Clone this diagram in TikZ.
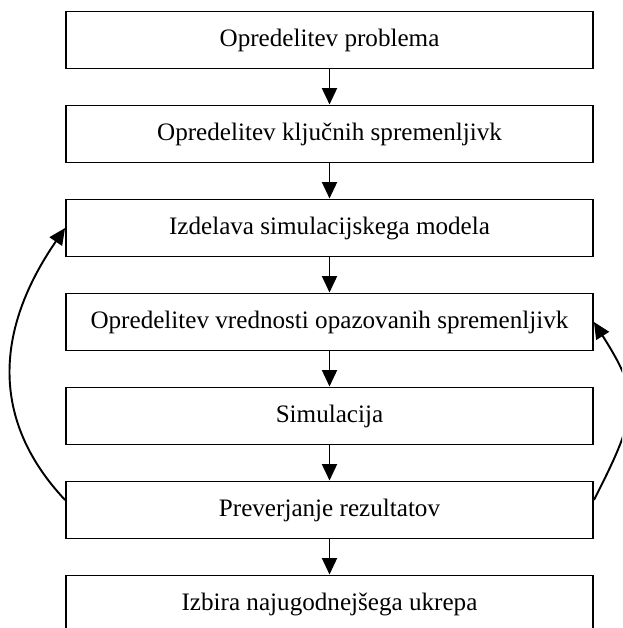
\documentclass[tikz,border=0pt]{standalone}
\usepackage{fontspec}
\setmainfont{Liberation Serif}
\usetikzlibrary{arrows.meta}

\begin{document}
\begin{tikzpicture}[
    x=0.02cm, y=-0.02cm,
    every node/.style={rectangle, draw, line width=1.1pt, minimum width=10.54cm, minimum height=1.14cm, inner sep=0pt, font=\fontsize{14.3}{17}\selectfont},
    flow/.style={line width=1.1pt, -{Triangle[length=0.33cm, width=0.3cm]}},
  ]
  \clip (0,0) rectangle (622,628);

  % Nodes (the last one runs off the bottom edge)
  \node (prob)   at (329.5, 40)  {Opredelitev problema};
  \node (keyv)   at (329.5, 134) {Opredelitev ključnih spremenljivk};
  \node (model)  at (329.5, 228) {Izdelava simulacijskega modela};
  \node (values) at (329.5, 322) {Opredelitev vrednosti opazovanih spremenljivk};
  \node (sim)    at (329.5, 416) {Simulacija};
  \node (check)  at (329.5, 510) {Preverjanje rezultatov};
  \node (choice) at (329.5, 604) {Izbira najugodnejšega ukrepa};

  % Edges
  \draw[flow] (prob)   -- (keyv);
  \draw[flow] (keyv)   -- (model);
  \draw[flow] (model)  -- (values);
  \draw[flow] (values) -- (sim);
  \draw[flow] (sim)    -- (check);
  \draw[flow] (check)  -- (choice);

  % Feedback loops
  \draw[flow] ([yshift=0.2cm]check.west) .. controls (-10,420) and (-5,330) .. (model.west);
  \draw[flow] ([yshift=0.2cm]check.east) .. controls (640,410) and (640,395) .. (values.east);

\end{tikzpicture}
\end{document}
